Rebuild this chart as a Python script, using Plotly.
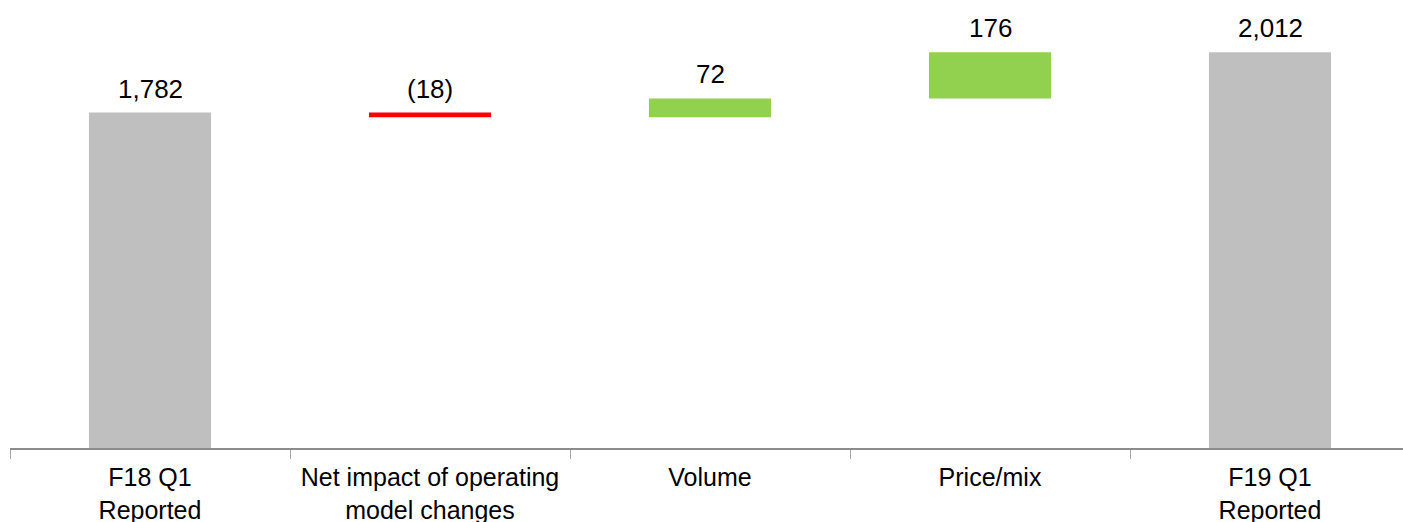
import plotly.graph_objects as go

# Bridge from F18 Q1 to F19 Q1 reported
categories = [
    "F18 Q1<br>Reported",
    "Net impact of operating<br>model changes",
    "Volume",
    "Price/mix",
    "F19 Q1<br>Reported",
]
measures = ["absolute", "relative", "relative", "relative", "total"]
values = [1782, -18, 72, 176, 2012]

GREY = "#BFBFBF"
GREEN = "#92D050"
RED = "#FF0000"
FONT = "Liberation Sans, Arial, sans-serif"


def fmt(v):
    s = f"{abs(v):,.0f}"
    return f"({s})" if v < 0 else s


# top of each bar in data units, used to anchor the value labels
tops = []
running = 0
for m, v in zip(measures, values):
    if m == "absolute":
        running = v
        tops.append(v)
    elif m == "total":
        tops.append(running)
    else:
        start = running
        running += v
        tops.append(max(start, running))

fig = go.Figure(
    go.Waterfall(
        x=categories,
        y=[v if m != "total" else 0 for m, v in zip(measures, values)],
        measure=measures,
        increasing=dict(marker=dict(color=GREEN, line=dict(width=0))),
        decreasing=dict(marker=dict(color=RED, line=dict(width=0))),
        totals=dict(marker=dict(color=GREY, line=dict(width=0))),
        connector=dict(visible=False),
        textinfo="none",
        hoverinfo="skip",
    )
)

for cat, top, v in zip(categories, tops, values):
    fig.add_annotation(
        x=cat,
        y=top,
        text=fmt(v),
        showarrow=False,
        yanchor="bottom",
        yshift=7,
        font=dict(family=FONT, size=26, color="#000000"),
    )

fig.update_layout(
    width=1403,
    height=522,
    margin=dict(l=10, r=0, t=0, b=74),
    paper_bgcolor="white",
    plot_bgcolor="white",
    waterfallgap=0.564,
    showlegend=False,
    font=dict(family=FONT, size=25, color="#000000"),
)

fig.update_xaxes(
    range=[-0.5, 4.475],
    automargin=False,
    showline=True,
    linecolor="#8C8C8C",
    linewidth=2,
    ticks="outside",
    tickson="boundaries",
    ticklen=9,
    tickwidth=1,
    tickcolor="#A6A6A6",
    ticklabelstandoff=6,
    showgrid=False,
    tickfont=dict(family=FONT, size=25, color="#000000"),
)
fig.update_yaxes(
    range=[500, 2212],
    automargin=False,
    visible=False,
    showgrid=False,
    zeroline=False,
)

fig.write_html("out.html")
